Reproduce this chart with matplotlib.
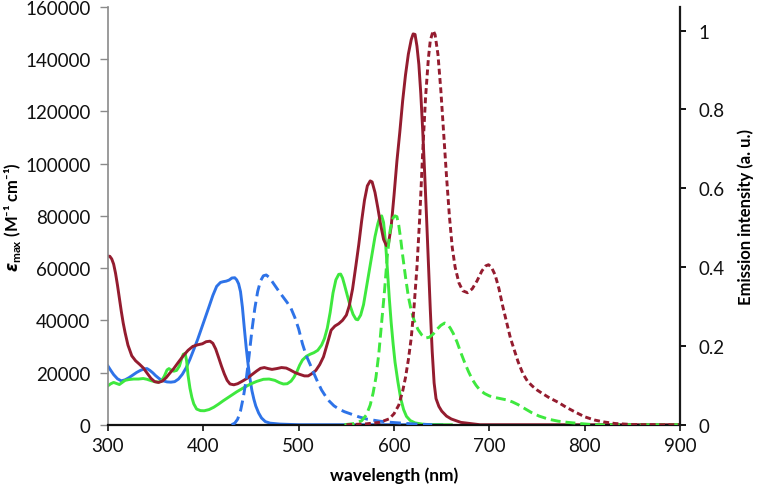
import matplotlib
matplotlib.use("Agg")
import matplotlib.pyplot as plt
from matplotlib.ticker import FuncFormatter

plt.rcParams['font.family'] = ['Lato', 'DejaVu Sans']
plt.rcParams['mathtext.fontset'] = 'custom'
plt.rcParams['mathtext.rm'] = 'Lato:bold'
plt.rcParams['mathtext.it'] = 'DejaVu Sans:bold:italic'
plt.rcParams['mathtext.bf'] = 'Lato:bold'

# absorption (left axis, M-1 cm-1)
red_abs_wl = [300, 302, 304, 306, 308, 310, 312, 314, 316, 318, 321, 325, 329, 333, 337, 341, 345,
              349, 353, 357, 361, 365, 369, 374, 379, 384, 389, 394, 399, 403, 407, 410, 413, 416,
              419, 422, 425, 428, 432, 436, 441, 446, 451, 456, 460, 464, 468, 472, 477, 482, 487,
              491, 496, 501, 506, 510, 514, 518, 522, 526, 530, 534, 538, 542, 546, 550, 553,
              556.5, 560, 563, 566, 569, 572, 575, 577, 580, 583, 586, 589, 592, 594, 597, 600,
              603, 606, 609, 612, 615, 618, 620, 622, 624, 626, 628, 630, 632, 634, 636, 638, 640,
              642, 644, 647, 650, 655, 660, 670, 690, 900]
red_abs = [64600, 64500, 63500, 61500, 58000, 53500, 48500, 43500, 39000, 35300, 30500, 26400,
           24500, 23200, 21800, 19800, 17800, 16500, 16200, 16700, 18000, 19800, 21500, 24000,
           26400, 28500, 30000, 30600, 31000, 31800, 32000, 31200, 29000, 25800, 22500, 19500,
           17000, 15600, 15300, 15700, 16700, 17800, 19200, 20600, 21600, 21900, 21500, 21200,
           21500, 21900, 21700, 21000, 20000, 19300, 18700, 18700, 19600, 20800, 23000, 26000,
           31000, 36200, 37800, 38700, 40000, 42000, 45500, 52000, 61000, 69000, 78000, 86000,
           91500, 93400, 93000, 89000, 83000, 76500, 71000, 68600, 69000, 76000, 88000, 101000,
           112000, 124000, 134000, 142000, 147500, 149700, 149500, 145000, 138000, 127000,
           113000, 97000, 80000, 62000, 44000, 28000, 16000, 10000, 7000, 5200, 3300, 2200, 900,
           0, 0]

blue_abs_wl = [300, 303, 306, 310, 314, 318, 322, 326, 330, 334, 338, 341, 344, 347, 350, 354,
               358, 362, 366, 370, 374, 378, 382, 386, 390, 394, 398, 402, 406, 410, 414, 418, 421,
               424, 427, 430, 433, 435, 437, 439, 441, 443, 445, 447, 449, 451, 453, 455, 458, 461,
               465, 470, 480, 500, 650]
blue_abs = [22500, 20800, 19200, 17600, 16800, 17200, 18000, 19000, 20000, 20800, 21400, 21500,
            20800, 19900, 18800, 17600, 16800, 16400, 16300, 16500, 17500, 19300, 21800, 25100,
            28800, 32600, 36800, 41000, 45200, 49500, 53000, 54500, 54800, 55000, 55400, 56200,
            56300, 55500, 54000, 51000, 45000, 37000, 29500, 23000, 17500, 13000, 9800, 7200,
            4500, 2600, 1200, 600, 250, 0, 0]

green_abs_wl = [300, 303, 306, 309, 312, 315, 318, 322, 327, 332, 337, 341, 345, 349, 353, 356,
                359, 362, 364, 366, 369, 372, 375, 377, 379, 381, 382.5, 384, 386, 388, 390, 393,
                397, 401, 406, 411, 416, 421, 428, 435, 442, 449, 456, 463, 469, 475, 480, 484,
                488, 492, 495, 498, 501, 504, 508, 512, 516, 520, 524, 527, 530, 533, 536, 539,
                542, 544, 546, 548, 551, 554, 557, 560, 562, 565, 568, 571, 574, 577, 580, 583,
                585, 587, 589, 591, 593, 595, 597, 599, 601, 604, 607, 610, 613, 617, 622, 630,
                640, 660]
green_abs = [14900, 15700, 16200, 15800, 15400, 16200, 17000, 17300, 17500, 17500, 17700, 17400,
             16900, 16500, 16300, 16700, 18500, 21000, 21500, 21000, 20500, 20800, 22500, 25000,
             27000, 27300, 24500, 19000, 14000, 10500, 8000, 6000, 5400, 5350, 5800, 6700, 7900,
             9200, 10900, 12600, 14100, 15500, 16600, 17400, 17500, 17000, 16100, 15600, 15700,
             16700, 18200, 20200, 22800, 24800, 26200, 27000, 27600, 28500, 30500, 33000, 37000,
             43000, 50500, 55500, 57600, 57700, 56200, 53600, 49500, 45500, 42300, 40400, 40200,
             42000, 46000, 52500, 59000, 65500, 72000, 77000, 79500, 80000, 77500, 70000, 59500,
             48500, 39000, 31000, 24000, 16500, 10000, 5800, 3200, 1600, 700, 200, 0, 0]

# emission (right axis, a. u.)
red_em_wl = [550, 570, 585, 595, 600, 605, 609, 612, 615, 618, 621, 624, 627, 630, 633, 636, 638,
             641, 643, 646, 649, 652, 655, 658, 661, 664, 668, 672, 677, 682, 687, 692, 696, 699,
             702, 706, 710, 714, 718, 722, 726, 730, 735, 740, 745, 750, 755, 763, 772, 780, 790,
             800, 810, 820, 832, 850, 870, 900]
red_em = [0, 0.002, 0.006, 0.015, 0.028, 0.05, 0.085, 0.12, 0.165, 0.22, 0.30, 0.40, 0.53, 0.69,
          0.83, 0.93, 0.975, 1.0, 0.99, 0.94, 0.85, 0.74, 0.63, 0.53, 0.45, 0.40, 0.36, 0.34,
          0.335, 0.345, 0.365, 0.39, 0.403, 0.406, 0.40, 0.38, 0.345, 0.30, 0.26, 0.22, 0.19,
          0.16, 0.13, 0.11, 0.098, 0.088, 0.08, 0.068, 0.057, 0.045, 0.032, 0.02, 0.012, 0.007,
          0.003, 0.0005, 0, 0]

blue_em_wl = [429.7, 433, 436, 439, 442, 445, 448, 451, 454, 457, 460, 463, 466, 469, 472, 476,
              480, 484, 488, 492, 496, 500, 504, 508, 512, 516, 520, 524, 528, 532, 537, 542, 548,
              555, 563, 572, 585, 597, 620, 640]
blue_em = [0, 0.004, 0.014, 0.035, 0.07, 0.115, 0.175, 0.24, 0.295, 0.338, 0.365, 0.378, 0.38,
           0.374, 0.364, 0.35, 0.336, 0.323, 0.31, 0.295, 0.272, 0.243, 0.205, 0.175, 0.153, 0.13,
           0.108, 0.088, 0.073, 0.06, 0.048, 0.04, 0.033, 0.027, 0.02, 0.014, 0.009, 0.006,
           0.002, 0]

green_em_wl = [548, 558, 566, 571, 575, 578, 581, 584, 587, 590, 593, 596, 599, 601, 603, 605,
               607, 609, 612, 615, 618, 621, 625, 629, 633, 637, 641, 645, 649, 653, 656, 659,
               662, 666, 670, 674, 678, 682, 686, 690, 695, 700, 706, 712, 718, 724, 730, 737,
               744, 752, 762, 772, 782, 795, 810, 900]
green_em = [0, 0.003, 0.01, 0.025, 0.05, 0.08, 0.12, 0.18, 0.26, 0.34, 0.43, 0.495, 0.525, 0.53,
            0.528, 0.505, 0.47, 0.43, 0.375, 0.325, 0.29, 0.265, 0.242, 0.228, 0.22, 0.222, 0.23,
            0.242, 0.252, 0.258, 0.255, 0.245, 0.232, 0.21, 0.183, 0.158, 0.135, 0.115, 0.1,
            0.088, 0.079, 0.073, 0.069, 0.066, 0.063, 0.058, 0.051, 0.041, 0.031, 0.022, 0.014,
            0.009, 0.006, 0.003, 0, 0]

red = '#941c2f'
blue = '#2e73e8'
green = '#3ee83e'

fig = plt.figure(figsize=(7.6, 4.89), dpi=100)
ax = fig.add_axes([0.142, 0.1294, 0.753, 0.8542])
ax2 = ax.twinx()

lw = 2.1
ax.plot(blue_abs_wl, blue_abs, color=blue, lw=lw)
ax.plot(green_abs_wl, green_abs, color=green, lw=lw)
ax.plot(red_abs_wl, red_abs, color=red, lw=lw)
ax2.plot(blue_em_wl, blue_em, color=blue, lw=lw, dashes=(3.8, 1.9))
ax2.plot(green_em_wl, green_em, color=green, lw=lw, dashes=(3.4, 1.7))
ax2.plot(red_em_wl, red_em, color=red, lw=lw, dashes=(2.0, 1.2))

ax.set_xlim(300, 900)
ax.set_ylim(0, 160000)
ax2.set_ylim(0, 1.06)
ax.set_xticks(range(300, 901, 100))
ax.set_yticks(range(0, 160001, 20000))
ax2.set_yticks([0, 0.2, 0.4, 0.6, 0.8, 1.0])
ax2.yaxis.set_major_formatter(FuncFormatter(lambda v, p: '%g' % v))

for a in (ax, ax2):
    a.spines['top'].set_visible(False)
ax.spines['right'].set_visible(False)
ax2.spines['left'].set_visible(False)
ax2.spines['bottom'].set_visible(False)
ax.spines['left'].set_color('#8a8a8a')
ax.spines['left'].set_linewidth(1.2)
ax.spines['bottom'].set_color('#111111')
ax.spines['bottom'].set_linewidth(1.6)
ax2.spines['right'].set_color('#1a1a1a')
ax2.spines['right'].set_linewidth(1.6)

ax.tick_params(axis='y', direction='out', length=5.5, width=1, color='#8a8a8a', pad=7,
               labelsize=13.5, labelcolor='#111111')
ax.tick_params(axis='x', direction='out', length=4, width=1.2, color='#111111', pad=5,
               labelsize=13.5, labelcolor='#111111')
ax2.tick_params(axis='y', direction='out', length=4, width=1.4, color='#111111', pad=9,
                labelsize=13.5, labelcolor='#111111')

ax.set_xlabel('wavelength (nm)', fontsize=12.5, fontweight='bold', labelpad=9)
ax.set_ylabel('$\\varepsilon_{\\rm max}$ (M\u207b\u00b9 cm\u207b\u00b9)', fontsize=12,
              fontweight='bold')
ax.yaxis.set_label_coords(-0.148, 0.5)
ax2.set_ylabel('Emission intensity (a. u.)', fontsize=12, fontweight='bold')
ax2.yaxis.set_label_coords(1.1, 0.5)

fig.savefig('out.png', dpi=100)
